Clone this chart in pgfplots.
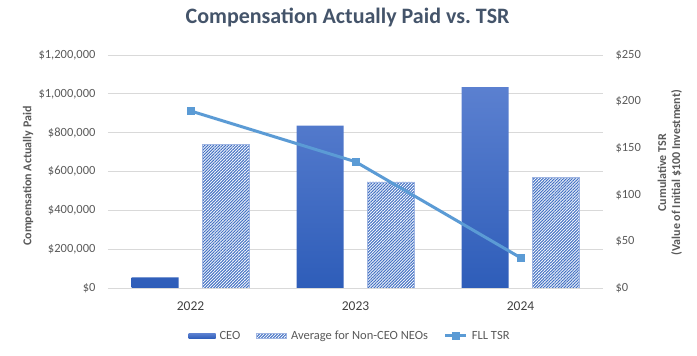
\documentclass[border=0pt]{standalone}
\usepackage{fontspec}
\setmainfont{Carlito}
\usepackage{pgfplots}
\pgfplotsset{compat=1.18}
\usetikzlibrary{patterns.meta}
\definecolor{ceotop}{HTML}{5B80D0}
\definecolor{ceobot}{HTML}{2E5DB9}
\definecolor{neo}{HTML}{4472C4}
\definecolor{neoedge}{HTML}{9FB5E2}
\definecolor{tsr}{HTML}{5B9BD5}
\definecolor{gridc}{HTML}{D9D9D9}
\definecolor{tickc}{HTML}{595959}
\definecolor{xtickc}{HTML}{404040}
\definecolor{titlec}{HTML}{44546A}
\pgfplotsset{
  ceolegend/.style={legend image code/.code={\path[##1] (0pt,-2.5pt) rectangle (27pt,2.5pt);}},
  neolegend/.style={legend image code/.code={\path[##1] (0pt,-2.5pt) rectangle (30pt,2.5pt);}},
  tsrlegend/.style={legend image code/.code={\draw[##1, mark repeat=2, mark phase=2] plot coordinates {(0pt,0pt) (10.5pt,0pt) (21pt,0pt)};}},
}
\begin{document}
\begin{tikzpicture}
\useasboundingbox (0,0) rectangle (697pt,356pt);
\begin{axis}[
  at={(108pt,68pt)}, anchor=south west,
  scale only axis, width=495pt, height=233pt,
  xmin=-0.5, xmax=2.5, ymin=0, ymax=1200000,
  xtick={0,1,2}, xticklabels={2022,2023,2024},
  ytick={0,200000,400000,600000,800000,1000000,1200000},
  scaled y ticks=false,
  /pgf/number format/assume math mode=true,
  yticklabel={\$\pgfmathprintnumber[fixed,precision=0,1000 sep={,}]{\tick}},
  axis line style={draw=none},
  major tick length=0pt,
  ymajorgrids, grid style={gridc, line width=0.8pt},
  yticklabel style={font=\fontsize{12.5}{15}\selectfont, text=tickc, xshift=-9pt},
  xticklabel style={font=\fontsize{13.5}{16}\selectfont, text=xtickc, yshift=-10pt},
  title={Compensation Actually Paid vs.\ TSR},
  title style={at={(axis description cs:0.484,1.137)}, anchor=center, font=\fontsize{22}{26}\selectfont\bfseries, text=titlec},
  ylabel={Compensation Actually Paid},
  every axis y label/.style={at={(axis description cs:-0.1616,0.48)}, anchor=center, rotate=90, font=\fontsize{12}{14}\selectfont\bfseries, text=tickc},
  legend style={draw=none, fill=none, at={(axis description cs:0.489,-0.206)}, anchor=center,
    legend columns=3, font=\fontsize{12.5}{15}\selectfont, text=tickc,
    /tikz/every even column/.append style={column sep=14pt},
    /tikz/every odd column/.append style={column sep=2pt}},
]
\addplot[ybar, bar width=0.285, bar shift=-0.215, draw=none, top color=ceotop, bottom color=ceobot, ceolegend]
  coordinates {(0,55000) (1,836000) (2,1034000)};
\addlegendentry{CEO}
\addplot[ybar, bar width=0.285, bar shift=0.215, draw=neoedge, line width=0.7pt, fill=white,
  postaction={pattern={Lines[angle=45,distance=2.1pt,line width=1.05pt]}, pattern color=neo}, neolegend]
  coordinates {(0,740000) (1,546000) (2,570000)};
\addlegendentry{Average for Non-CEO NEOs}
\addlegendimage{tsr, line width=3pt, mark=square*, mark size=3.5pt, mark options={line width=0.5pt}, tsrlegend}
\addlegendentry{FLL TSR}
\end{axis}
\begin{axis}[
  at={(108pt,68pt)}, anchor=south west,
  scale only axis, width=495pt, height=233pt,
  xmin=-0.5, xmax=2.5, ymin=0, ymax=250,
  axis x line=none, axis y line*=right,
  ytick={0,50,100,150,200,250},
  /pgf/number format/assume math mode=true,
  yticklabel={\$\pgfmathprintnumber{\tick}},
  axis line style={draw=none},
  major tick length=0pt,
  yticklabel style={font=\fontsize{12.5}{15}\selectfont, text=tickc, xshift=9pt},
  ylabel={Cumulative TSR\\(Value of Initial \$100 Investment)},
  every axis y label/.style={at={(axis description cs:1.135,0.495)}, anchor=center, rotate=90, align=center, font=\fontsize{12}{14}\selectfont\bfseries, text=tickc},
]
\addplot[tsr, line width=3pt, mark=square*, mark size=3.5pt, mark options={line width=0.5pt}]
  coordinates {(0,190) (1,135.5) (2,32.5)};
\end{axis}
\end{tikzpicture}
\end{document}
